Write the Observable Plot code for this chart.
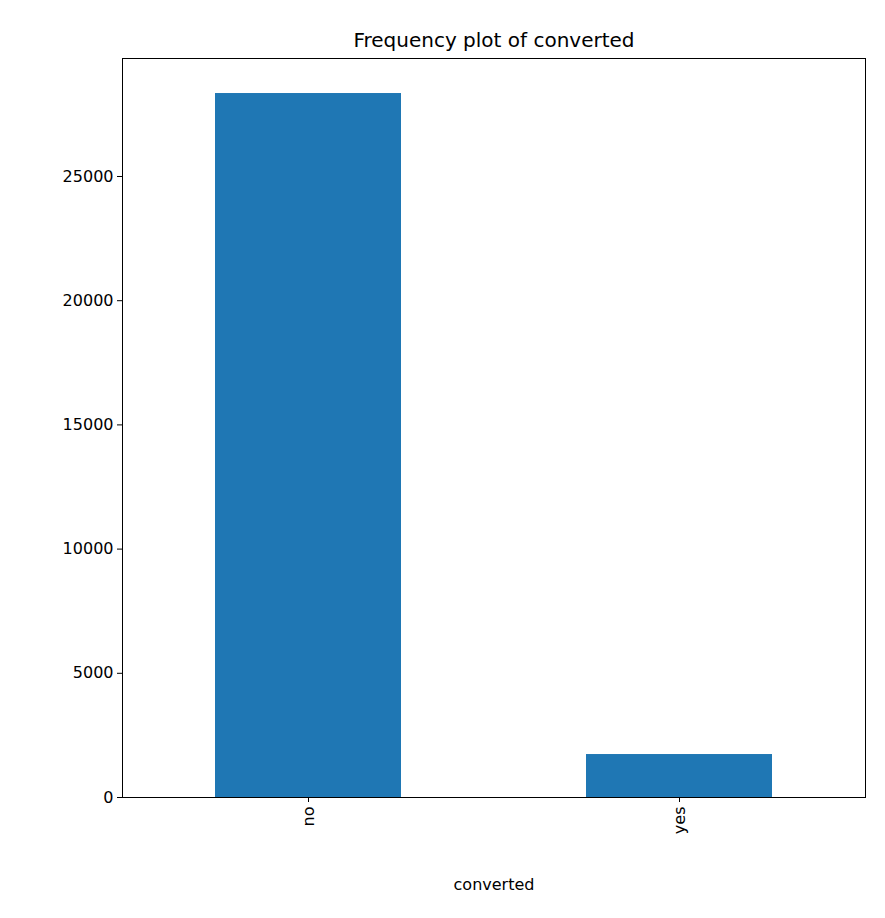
<!DOCTYPE html>
<html><head><meta charset="utf-8">
<script src="https://cdn.jsdelivr.net/npm/d3@7"></script>
<script src="https://cdn.jsdelivr.net/npm/@observablehq/plot@0.6"></script>
<style>body{margin:0;background:#fff}</style>
</head><body><div id="c"></div>
<script>
const categories = ["no", "yes"];
const counts = [28340, 1730];
const yTicks = [0, 5000, 10000, 15000, 20000, 25000];
const data = categories.map((c, i) => ({c, v: counts[i]}));
const chart = Plot.plot({
  width: 885, height: 918,
  marginTop: 58, marginLeft: 122, marginRight: 20, marginBottom: 121,
  style: {fontFamily: "DejaVu Sans", fontSize: "16px", color: "#000"},
  x: {domain: categories, paddingInner: 0.5, paddingOuter: 0.25, align: 0.5, label: "converted", labelAnchor: "center", labelOffset: 92, tickRotate: -90, tickSize: 5},
  y: {domain: [0, 29750], ticks: yTicks, tickFormat: d => String(d), label: null, tickSize: 5},
  marks: [
    Plot.barY(data, {x: "c", y: "v", fill: "#1f77b4"}),
    Plot.frame({stroke: "#000"}),
    Plot.text(["Frequency plot of converted"], {frameAnchor: "top", dy: -26, fontSize: 20})
  ]
});
document.getElementById("c").appendChild(chart);
</script></body></html>
